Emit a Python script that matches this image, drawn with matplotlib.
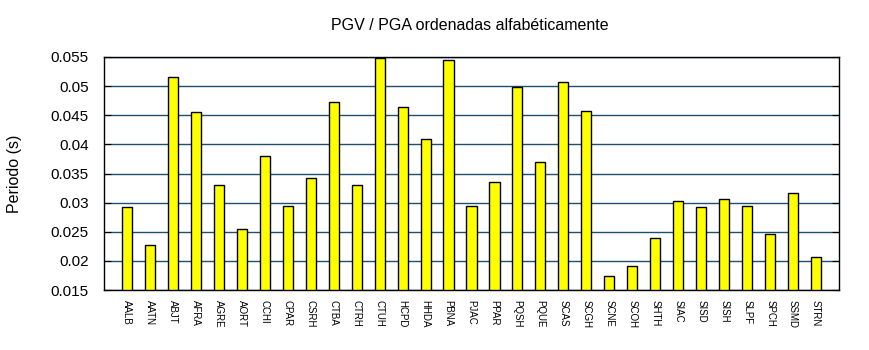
import matplotlib
matplotlib.use("Agg")
import matplotlib.pyplot as plt
import numpy as np

plt.rcParams['font.family'] = ['Liberation Sans', 'DejaVu Sans']

stations = ["AALB", "AATN", "ABJT", "AFRA", "AGRE", "AORT", "CCHI", "CPAR",
            "CSRH", "CTBA", "CTRH", "CTUH", "HCPD", "HHDA", "PBNA", "PJAC",
            "PPAR", "PQSH", "PQUE", "SCAS", "SCGH", "SCNE", "SCOH", "SHTH",
            "SIAC", "SISD", "SISH", "SLPF", "SPCH", "SSMD", "STRN"]
periodo = [0.0292, 0.0228, 0.0515, 0.0455, 0.0331, 0.0254, 0.0380, 0.0295,
           0.0343, 0.0472, 0.0330, 0.0548, 0.0465, 0.0410, 0.0544, 0.0295,
           0.0335, 0.0498, 0.0369, 0.0507, 0.0457, 0.0174, 0.0191, 0.0240,
           0.0302, 0.0292, 0.0307, 0.0294, 0.0246, 0.0316, 0.0206]
y_ticks = [0.015, 0.02, 0.025, 0.03, 0.035, 0.04, 0.045, 0.05, 0.055]
y_tick_labels = ["0.015", "0.02", "0.025", "0.03", "0.035", "0.04", "0.045", "0.05", "0.055"]

fig = plt.figure(figsize=(8.7, 3.5), dpi=100)
ax = fig.add_axes([104 / 870, 1 - 290 / 350, 735 / 870, 233 / 350])

x = np.arange(len(stations))
ax.bar(x, np.array(periodo) - 0.015, bottom=0.015, width=0.44,
       color="#ffff00", edgecolor="black", linewidth=1.0, zorder=3)

ax.set_xlim(-1, len(stations))
ax.set_ylim(0.015, 0.055)
ax.set_yticks(y_ticks)
ax.set_yticklabels(y_tick_labels, fontsize=11)
ax.set_xticks(x)
ax.set_xticklabels(stations, rotation=-90, fontsize=7, va="top", ha="center")

ax.yaxis.grid(True, color="#1f4e6e", linewidth=1.0, zorder=0)
ax.tick_params(axis="y", direction="in", length=5, right=True, left=True,
               pad=11, color="black")
ax.tick_params(axis="x", length=0, pad=7)
for s in ax.spines.values():
    s.set_linewidth(1.0)
    s.set_color("black")

fig.text(15 / 870, 1 - 174 / 350, "Periodo (s)", rotation=90,
         ha="center", va="center", fontsize=11.5)
fig.text(470 / 870, 1 - 26 / 350, "PGV / PGA ordenadas alfabéticamente",
         ha="center", va="center", fontsize=11.5)

fig.savefig("out.png", dpi=100)
